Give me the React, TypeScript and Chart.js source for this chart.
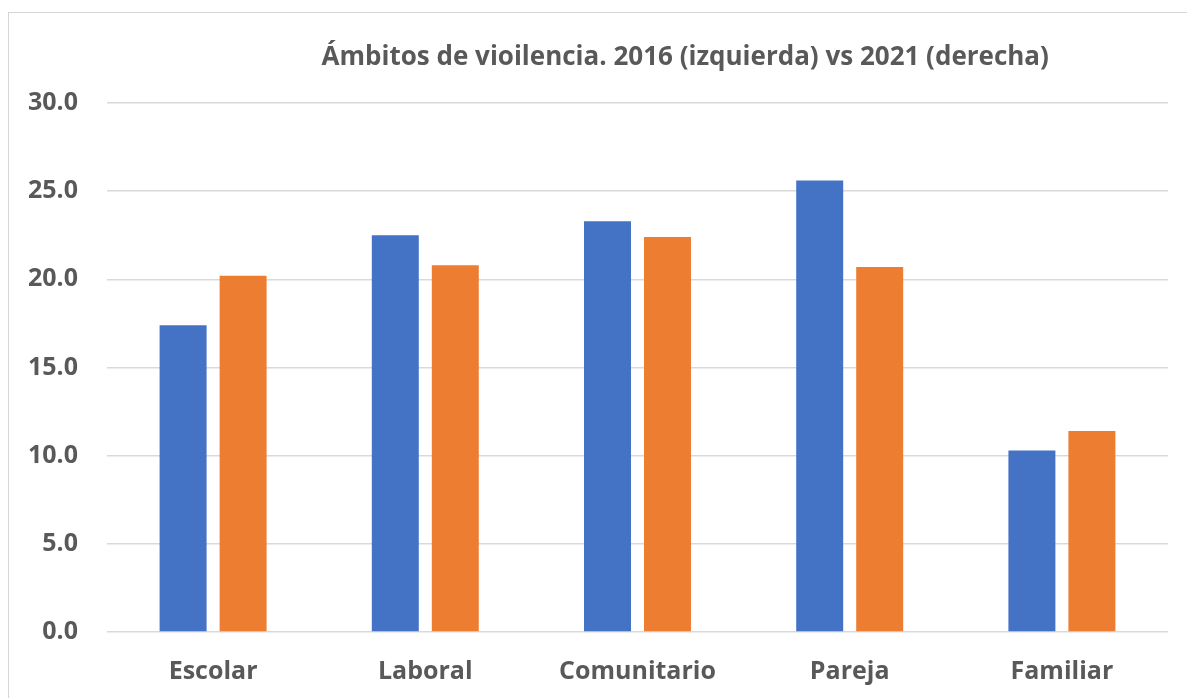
import React, { useEffect, useRef } from "react";
import { Chart, registerables } from "chart.js";

Chart.register(...registerables);

const categories = ["Escolar", "Laboral", "Comunitario", "Pareja", "Familiar"];
const values2016 = [17.4, 22.5, 23.3, 25.6, 10.3];
const values2021 = [20.2, 20.8, 22.4, 20.7, 11.4];
const titleText = "Ámbitos de vioilencia. 2016 (izquierda) vs 2021 (derecha)";

const FONT = "'Open Sans', Lato, sans-serif";
const GRAY = "#595959";

const titlePlugin = {
  id: "customTitle",
  afterDraw(chart: any) {
    const { ctx, chartArea } = chart;
    ctx.save();
    ctx.font = `bold 26px ${FONT}`;
    ctx.fillStyle = GRAY;
    ctx.textAlign = "center";
    ctx.textBaseline = "middle";
    const x = chartArea.left + (chartArea.right - chartArea.left) * 0.545;
    ctx.fillText(titleText, x, 58);
    ctx.restore();
  },
};

export default function App() {
  const ref = useRef<HTMLCanvasElement>(null);
  useEffect(() => {
    if (!ref.current) return;
    const chart = new Chart(ref.current, {
      type: "bar",
      data: {
        labels: categories,
        datasets: [
          { label: "2016", data: values2016, backgroundColor: "#4472C4" },
          { label: "2021", data: values2021, backgroundColor: "#ED7D31" },
        ],
      },
      options: {
        animation: false,
        responsive: false,
        layout: { padding: { top: 103, right: 19, left: 0, bottom: 0 } },
        datasets: {
          bar: { categoryPercentage: 0.5655, barPercentage: 0.783 },
        },
        plugins: {
          legend: { display: false },
          title: { display: false },
          tooltip: { enabled: false },
        },
        scales: {
          x: {
            grid: { display: false, drawTicks: false },
            border: { display: false },
            ticks: {
              color: GRAY,
              font: { family: FONT, size: 25, weight: "bold" },
              padding: 25,
            },
            afterFit(scale: any) {
              scale.height = 66;
            },
          },
          y: {
            min: 0,
            max: 30,
            grid: { color: "#D9D9D9", lineWidth: 1.5, drawTicks: false },
            border: { display: false },
            ticks: {
              stepSize: 5,
              color: GRAY,
              font: { family: FONT, size: 25, weight: "bold" },
              padding: 29,
              callback: (v: any) => Number(v).toFixed(1),
            },
            afterFit(scale: any) {
              scale.width = 107;
            },
          },
        },
      },
      plugins: [titlePlugin],
    });
    return () => chart.destroy();
  }, []);

  return (
    <div style={{ position: "fixed", left: 0, top: 0, width: 1187, height: 698, background: "#fff" }}>
      <div
        style={{
          position: "absolute",
          left: 8,
          top: 12,
          width: 1200,
          height: 700,
          borderLeft: "1.5px solid #D6D6D6",
          borderTop: "1.5px solid #D6D6D6",
        }}
      />
      <canvas ref={ref} width={1187} height={698} style={{ position: "absolute", left: 0, top: 0, width: 1187, height: 698 }} />
    </div>
  );
}
